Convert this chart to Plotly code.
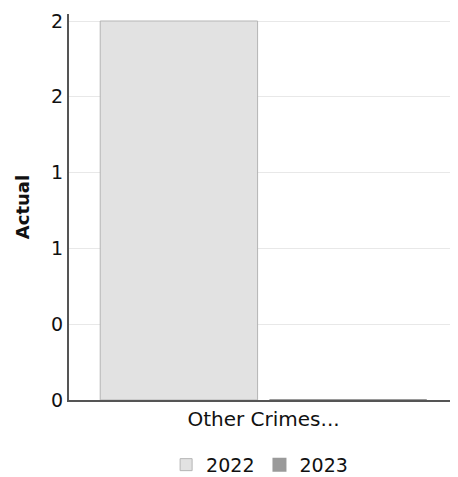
import plotly.graph_objects as go

categories = ["Other Crimes..."]
values_2022 = [2]
values_2023 = [0]
tick_vals = [0, 0.4, 0.8, 1.2, 1.6, 2.0]
tick_text = ["0", "0", "1", "1", "2", "2"]

fig = go.Figure()
fig.add_trace(go.Bar(
    x=categories, y=values_2022, name="2022",
    marker=dict(color="#e2e2e2", line=dict(color="#b5b5b5", width=1)),
))
fig.add_trace(go.Bar(
    x=categories, y=values_2023, name="2023",
    marker=dict(color="#9a9a9a", line=dict(color="#9a9a9a", width=2)),
))

fig.update_layout(
    width=450, height=469,
    margin=dict(l=61, r=0, t=6, b=77, autoexpand=False),
    paper_bgcolor="white", plot_bgcolor="white",
    barmode="group", bargap=0.13, bargroupgap=0.07,
    font=dict(family="DejaVu Sans", color="#111111", size=19),
    showlegend=True,
    legend=dict(orientation="h", x=0.49, xanchor="center",
                yref="container", y=0.026, yanchor="middle",
                font=dict(size=19), itemwidth=30),
    xaxis=dict(showline=True, linecolor="#555555", linewidth=2, ticks="",
               automargin=False, tickfont=dict(size=20)),
    yaxis=dict(range=[0, 2.037], tickvals=tick_vals, ticktext=tick_text,
               showgrid=True, gridcolor="#e8e8e8", gridwidth=1,
               showline=True, linecolor="#555555", linewidth=2,
               zeroline=False, ticks="", ticklen=0, automargin=False,
               ticklabeloverflow="allow",
               tickfont=dict(size=19),
               title=dict(text="<b>Actual</b>", font=dict(size=18), standoff=17)),
)

fig.write_html("out.html")
